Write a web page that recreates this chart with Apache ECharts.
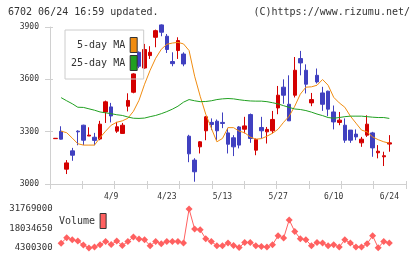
<!DOCTYPE html>
<html>
<head>
<meta charset="utf-8">
<script src="https://cdn.jsdelivr.net/npm/echarts@6/dist/echarts.min.js"></script>
<style>
html,body{margin:0;padding:0;background:#fff;}
#main{width:420px;height:259px;}
</style>
</head>
<body>
<div id="main"></div>
<script>
var dates=['3/26','3/27','3/28','3/29','4/1','4/2','4/3','4/4','4/5','4/8',
    '4/9','4/10','4/11','4/12','4/15','4/16','4/17','4/18','4/19','4/22',
    '4/23','4/24','4/25','4/26','4/30','5/1','5/2','5/7','5/8','5/9',
    '5/13','5/14','5/15','5/16','5/17','5/20','5/21','5/22','5/23','5/24',
    '5/27','5/28','5/29','5/30','5/31','6/3','6/4','6/5','6/6','6/7',
    '6/10','6/11','6/12','6/13','6/14','6/17','6/18','6/19','6/20','6/21',
    '6/24'];
var labelDays=['4/9','4/23','5/13','5/27','6/10','6/24'];

var opens=[3260,3302,3085,3190,3303,3337,3275,3268,3258,3413,
    3442,3303,3290,3446,3526,3755,3665,3736,3841,3912,
    3847,3702,3765,3745,3274,3137,3213,3305,3353,3360,
    3353,3293,3265,3327,3314,3398,3194,3324,3299,3305,
    3436,3555,3457,3509,3719,3652,3465,3623,3522,3532,
    3413,3353,3337,3309,3286,3236,3280,3293,3179,3156,
    3229];
var closes=[3262,3257,3121,3165,3299,3251,3280,3250,3343,3471,
    3390,3328,3337,3479,3631,3675,3771,3755,3879,3870,
    3771,3690,3822,3688,3173,3070,3242,3385,3341,3305,
    3347,3228,3213,3223,3333,3261,3255,3305,3313,3370,
    3509,3509,3362,3652,3694,3572,3484,3585,3457,3429,
    3356,3366,3251,3251,3270,3257,3343,3207,3188,3162,
    3236];
var lows=[3260,3255,3057,3133,3222,3223,3275,3222,3251,3350,
    3353,3293,3290,3416,3520,3664,3660,3717,3784,3847,
    3751,3675,3717,3675,3125,3013,3175,3251,3309,3252,
    3320,3175,3160,3204,3290,3236,3165,3261,3232,3290,
    3400,3460,3362,3496,3623,3519,3446,3576,3419,3389,
    3313,3337,3236,3236,3251,3213,3270,3156,3147,3103,
    3185];
var highs=[3262,3331,3137,3207,3308,3340,3325,3293,3362,3478,
    3465,3356,3350,3520,3635,3760,3803,3790,3885,3915,
    3860,3755,3841,3755,3282,3148,3246,3390,3376,3370,
    3410,3322,3280,3332,3385,3404,3261,3385,3327,3419,
    3562,3600,3623,3728,3763,3686,3522,3662,3557,3535,
    3450,3413,3376,3309,3313,3270,3394,3299,3223,3185,
    3280];

var ma5=[null,3303,3294,3263,3231,3223,3223,3223,3266,3303,
    3337,3354,3362,3377,3417,3480,3572,3652,3721,3772,
    3801,3808,3812,3803,3765,3618,3503,3400,3320,3242,
    3261,3323,3323,3303,3294,3269,3257,3260,3274,3291,
    3314,3354,3389,3446,3515,3555,3557,3566,3599,3566,
    3497,3465,3440,3389,3349,3309,3299,3270,3254,3242,
    3234];
var ma25=[null,3495,3477,3460,3440,3439,3431,3423,3413,3408,
    3403,3397,3393,3384,3377,3376,3378,3386,3393,3403,
    3415,3429,3446,3469,3484,3477,3472,3473,3477,3484,
    3488,3490,3488,3483,3479,3476,3475,3475,3472,3466,
    3459,3449,3439,3430,3427,3421,3412,3401,3392,3381,
    3377,3381,3386,3389,3389,3389,3386,3383,3381,3381,
    3376];
var volumes=[null,7660000,11500000,10100000,9200000,6400000,4300300,5070000,6600000,8900000,
    6800000,9200000,6050000,8900000,12000000,10600000,10100000,5900000,8900000,7300000,
    8900000,8900000,8900000,7800000,31769000,17600000,17100000,10800000,8900000,5900000,
    5900000,7800000,6100000,4600000,8200000,8200000,5900000,5400000,5000000,6600000,
    12900000,11300000,24100000,15900000,10800000,10100000,5900000,8200000,7800000,5900000,
    6600000,5000000,10100000,7800000,5000000,5000000,7300000,12900000,4500000,8900000,
    7800000];
var volMin=4300300, volMax=31769000;
var priceTicks=[3000,3900,300];

var candleData=[];
for(var i=0;i<dates.length;i++){
    candleData.push([opens[i],closes[i],lows[i],highs[i]]);
}

var mono='DejaVu Sans Mono';
var gridLeft=50, gridRight=14, step=356/64;
var plain=function(v){return String(Math.round(v));};

var Mychart=echarts.init(document.getElementById('main'));
var option={
    animation:false,
    title:[{
        text:'6702 06/24 16:59 updated.',
        left:8, top:7, padding:0,
        textStyle:{fontFamily:mono,fontSize:10,fontWeight:'normal',color:'#333'}
    },{
        text:'(C)https://www.rizumu.net/',
        right:10, top:7, padding:0,
        textStyle:{fontFamily:mono,fontSize:10,fontWeight:'normal',color:'#333'}
    }],
    legend:[{
        data:['5-day MA','25-day MA'],
        orient:'vertical',
        align:'right',
        left:65, top:30,
        padding:[7,6,8,6],
        itemGap:2,
        itemWidth:7, itemHeight:15,
        icon:'rect',
        borderColor:'#ccc', borderWidth:1,
        itemStyle:{borderColor:'#333',borderWidth:1},
        textStyle:{fontFamily:mono,fontSize:10,color:'#333'},
        selectedMode:false
    },{
        data:['Volume'],
        orient:'vertical',
        align:'right',
        left:59, top:213,
        padding:0,
        itemWidth:6, itemHeight:15,
        icon:'rect',
        itemStyle:{borderColor:'#333',borderWidth:1},
        textStyle:{fontFamily:mono,fontSize:10,color:'#333'},
        selectedMode:false
    }],
    grid:[
        {left:gridLeft+step, right:gridRight+3*step, top:27, bottom:75},
        {left:gridLeft, right:gridRight, top:27, bottom:75},
        {left:gridLeft, right:gridRight, top:27, bottom:75},
        {left:gridLeft+step, right:gridRight+3*step, top:209, bottom:11}
    ],
    xAxis:[{
        type:'category', gridIndex:0, data:dates, boundaryGap:false,
        axisLine:{show:false}, axisTick:{show:false},
        axisLabel:{
            interval:function(index,value){return labelDays.indexOf(value)>=0;},
            margin:9, fontFamily:mono, fontSize:8, color:'#333'
        }
    },{
        type:'value', gridIndex:1, min:0, max:11, interval:1,
        axisLine:{show:true,lineStyle:{color:'#d0d0d0'}},
        axisTick:{show:true,length:5,lineStyle:{color:'#d0d0d0'}},
        axisLabel:{show:false}, splitLine:{show:false}
    },{
        type:'value', gridIndex:2, min:0, max:11, interval:1,
        axisLine:{show:false},
        axisTick:{show:true,inside:true,length:3,lineStyle:{color:'#d0d0d0'}},
        axisLabel:{show:false}, splitLine:{show:false}
    },{
        type:'category', gridIndex:3, data:dates, boundaryGap:false, show:false
    }],
    yAxis:[{
        type:'value', gridIndex:0, min:priceTicks[0], max:priceTicks[1], interval:priceTicks[2],
        show:false
    },{
        type:'value', gridIndex:1, min:priceTicks[0], max:priceTicks[1], interval:priceTicks[2],
        axisLine:{show:true,lineStyle:{color:'#d0d0d0'}},
        axisTick:{show:true,length:5,lineStyle:{color:'#d0d0d0'}},
        axisLabel:{margin:11,fontFamily:mono,fontSize:8,color:'#333',formatter:plain},
        splitLine:{show:false}
    },{
        type:'value', gridIndex:2, min:priceTicks[0], max:priceTicks[1], interval:priceTicks[2],
        axisLine:{show:false},
        axisTick:{show:true,inside:true,length:3,lineStyle:{color:'#d0d0d0'}},
        axisLabel:{show:false}, splitLine:{show:false}
    },{
        type:'value', gridIndex:3, min:volMin, max:volMax, interval:(volMax-volMin)/2,
        axisLine:{show:false}, axisTick:{show:false}, splitLine:{show:false},
        axisLabel:{margin:3,fontFamily:mono,fontSize:9,color:'#333',formatter:plain}
    }],
    series:[{
        name:'price',
        type:'candlestick',
        xAxisIndex:0, yAxisIndex:0,
        data:candleData,
        barWidth:4,
        clip:false,
        itemStyle:{
            color:'#d40000', color0:'#4040c0',
            borderColor:'#d40000', borderColor0:'#4040c0',
            borderWidth:1
        }
    },{
        name:'5-day MA',
        type:'line',
        xAxisIndex:0, yAxisIndex:0,
        data:ma5,
        symbol:'none',
        color:'#f08c10',
        lineStyle:{width:1,color:'#f08c10'}
    },{
        name:'25-day MA',
        type:'line',
        xAxisIndex:0, yAxisIndex:0,
        data:ma25,
        symbol:'none',
        color:'#20a020',
        lineStyle:{width:1,color:'#20a020'}
    },{
        name:'Volume',
        type:'line',
        xAxisIndex:3, yAxisIndex:3,
        data:volumes,
        symbol:'diamond',
        symbolSize:7,
        showAllSymbol:true,
        clip:false,
        color:'#ff6060',
        itemStyle:{color:'#ff6060'},
        lineStyle:{width:1,color:'#ff6060'}
    }]
};
Mychart.setOption(option);
</script>
</body>
</html>
